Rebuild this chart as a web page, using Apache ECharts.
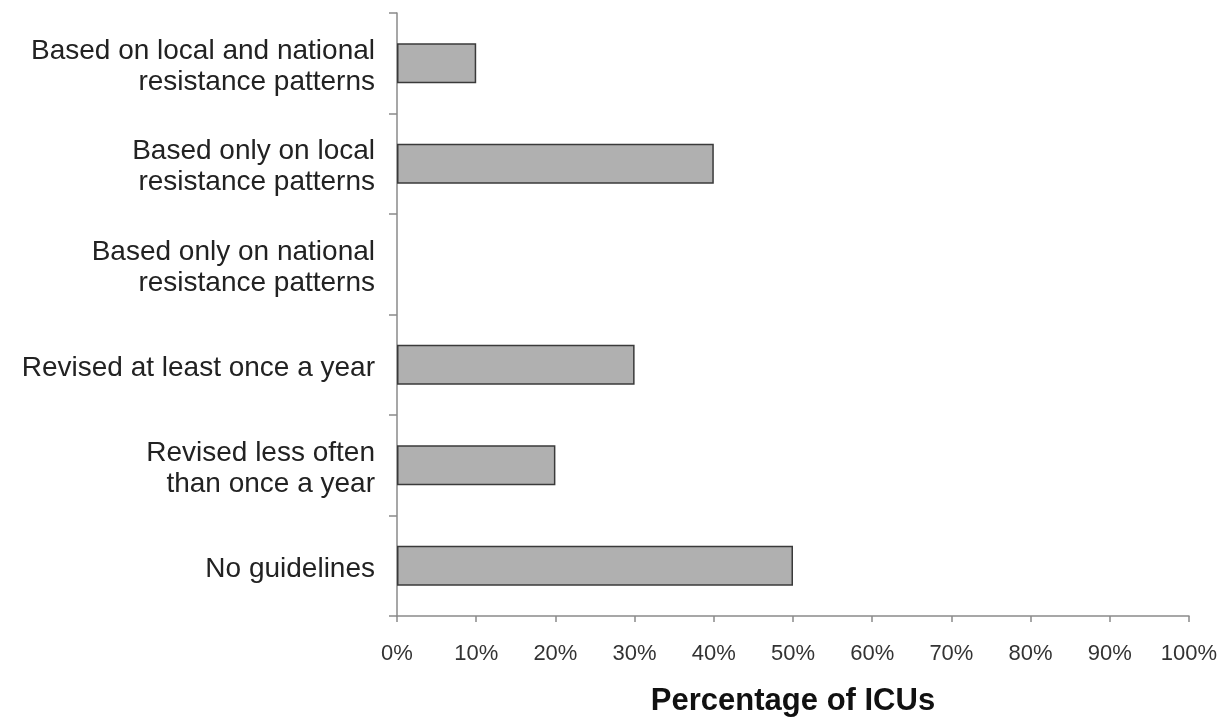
<!DOCTYPE html>
<html>
<head>
<meta charset="utf-8">
<script src="https://cdn.jsdelivr.net/npm/echarts@6/dist/echarts.min.js"></script>
<style>html,body{margin:0;padding:0;background:#fff;}#c{width:1229px;height:717px;}</style>
</head>
<body>
<div id="c"></div>
<script>
const categories = [
  "Based on local and national\nresistance patterns",
  "Based only on local\nresistance patterns",
  "Based only on national\nresistance patterns",
  "Revised at least once a year",
  "Revised less often\nthan once a year",
  "No guidelines"
];
const values = [10, 40, 0, 30, 20, 50];
const xTicks = [0, 10, 20, 30, 40, 50, 60, 70, 80, 90, 100];

const chart = echarts.init(document.getElementById('c'));
chart.setOption({
  animation: false,
  grid: { left: 397, right: 40, top: 13, bottom: 101, containLabel: false, outerBoundsMode: 'none' },
  xAxis: {
    type: 'value', min: xTicks[0], max: xTicks[xTicks.length - 1], interval: xTicks[1] - xTicks[0],
    name: 'Percentage of ICUs', nameLocation: 'middle', nameGap: 70,
    nameTextStyle: { fontFamily: 'Liberation Sans', fontSize: 31, fontWeight: 'bold', color: '#111' },
    axisLine: { show: true, lineStyle: { color: '#8a8a8a', width: 1.5 } },
    axisTick: { show: true, length: 6, lineStyle: { color: '#8a8a8a', width: 1.5 } },
    axisLabel: { formatter: v => v + '%', margin: 27, fontFamily: 'Liberation Sans', fontSize: 22, color: '#333' },
    splitLine: { show: false }
  },
  yAxis: {
    type: 'category', data: categories, inverse: true,
    axisLine: { show: true, lineStyle: { color: '#8a8a8a', width: 1.5 } },
    axisTick: { show: true, length: 8, lineStyle: { color: '#8a8a8a', width: 1.5 } },
    axisLabel: {
      margin: 22, fontFamily: 'Liberation Sans', fontSize: 28, color: '#222', lineHeight: 31, align: 'right',
      formatter: v => '{s| }\n' + v,
      rich: { s: { fontSize: 4, lineHeight: 7 } }
    }
  },
  series: [{
    type: 'bar', barWidth: 40,
    data: values.map(v => v === 0 ? { value: v, itemStyle: { borderWidth: 0 } } : v),
    itemStyle: { color: '#b0b0b0', borderColor: '#3a3a3a', borderWidth: 1.5 }
  }]
});
</script>
</body>
</html>
